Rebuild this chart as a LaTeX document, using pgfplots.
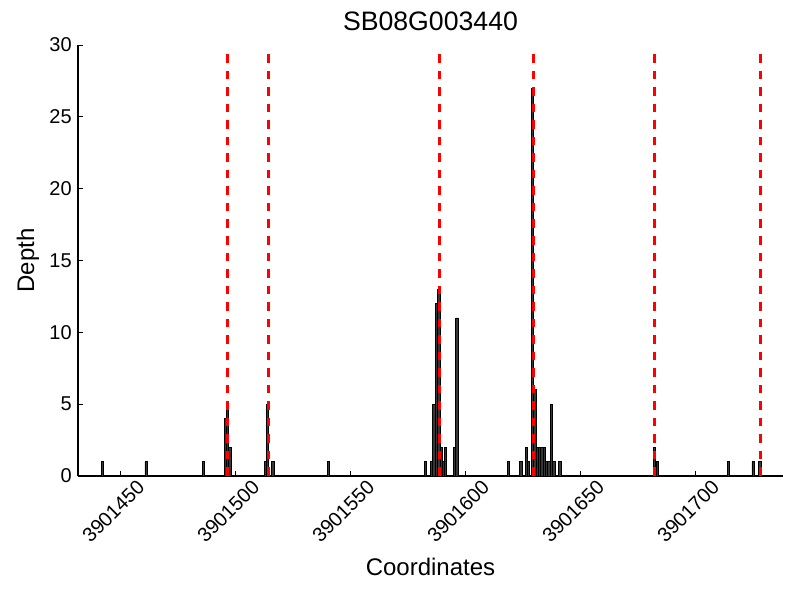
\documentclass[border=0pt]{standalone}
\usepackage{fontspec}
\setmainfont{Liberation Sans}
\usepackage{graphicx}
\usepackage{pgfplots}
\pgfplotsset{compat=1.18}
\definecolor{barfill}{RGB}{55,55,55}
\newcommand{\rl}[1]{\rotatebox{45}{#1}}
\begin{document}
\begin{tikzpicture}
\useasboundingbox (-58.5pt,-93pt) rectangle (541.5pt,357pt);
\begin{axis}[
  at={(0,0)}, anchor=south west,
  scale only axis, width=528.75pt, height=323.25pt,
  % x values are coordinates minus 3901000
  xmin=431.4, xmax=738, ymin=0, ymax=30,
  axis lines=left, axis line style={-, line width=0.9pt, black},
  tick style={black, line width=0.6pt}, major tick length=3.75pt,
  tick align=inside,
  xtick={450,500,550,600,650,700},
  xticklabels={\rl{3901450},\rl{3901500},\rl{3901550},\rl{3901600},\rl{3901650},\rl{3901700}},
  ytick={0,5,...,30},
  tick label style={font=\fontsize{15}{17}\selectfont},
  /pgf/number format/assume math mode=true,
  yticklabel style={xshift=-1.2pt},
  xticklabel style={anchor=center, xshift=-5.6pt, yshift=-26.5pt, inner sep=0pt},
  title={SB08G003440},
  title style={at={(axis description cs:0.5,1.0162)}, anchor=base, font=\fontsize{20}{24}\selectfont},
  xlabel={Coordinates},
  xlabel style={at={(axis description cs:0.5,-0.232)}, anchor=base, font=\fontsize{18}{22}\selectfont},
  ylabel={Depth},
  ylabel style={at={(axis description cs:-0.0624,0.5)}, anchor=base, font=\fontsize{18}{22}\selectfont},
  clip=false,
]
\addplot[ybar, bar width=1, draw=black, line width=0.6pt, fill=barfill] coordinates {
(442,1) (461,1) (486,1)
(495.5,4) (496.5,5) (497.5,2)
(512.8,1) (513.8,5) (516.2,1)
(540.3,1)
(582.4,1) (585.2,1) (586.2,5) (587.2,12) (588.3,13) (589.4,2) (590.3,1) (591.3,2)
(595.1,2) (596.2,11)
(618.5,1) (624.0,1) (626.3,2) (627.3,1) (629.0,27) (630.1,6) (631.2,2) (632.2,2) (633.2,2) (634.2,2)
(635.2,1) (636.2,1) (637.2,5) (638.3,1) (641.0,1)
(682.2,2) (683.5,1) (714.2,1) (725.0,1) (728.0,1)
};
\addplot[ycomb, red, line width=2.25pt, dash pattern=on 6.4pt off 6pt, mark=none] coordinates {
(496.4,29.6) (514.1,29.6) (588.5,29.6) (629.4,29.6) (682.0,29.6) (728.1,29.6)
};
\end{axis}
\end{tikzpicture}
\end{document}
